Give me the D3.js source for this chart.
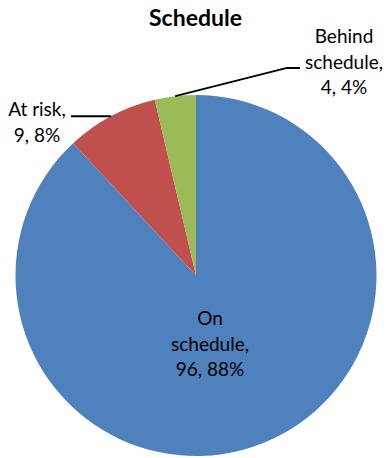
<!DOCTYPE html>
<html>
<head>
<meta charset="utf-8">
<script src="https://cdn.jsdelivr.net/npm/d3@7"></script>
<style>
  html, body { margin: 0; padding: 0; background: #fff; }
  svg { display: block; }
  text { font-family: Lato, "Open Sans", sans-serif; fill: #000; }
</style>
</head>
<body>
<div id="chart"></div>
<script>
// Project schedule status
const categories = ["On schedule", "At risk", "Behind schedule"];
const values = [96, 9, 4];
const colors = ["#4F81BD", "#C0504D", "#9BBB59"];
const title = "Schedule";

const width = 389, height = 458;
const cx = 196, cy = 275.5, radius = 180.5;

// Label placement: block centre / first baseline and optional leader-line elbow
const labelLayout = [
  { x: 210, y: 325, lines: ["On", "schedule,"], leader: null },
  { x: 37, y: 116, lines: ["At risk,"], leader: { x: 71, y: null } },
  { x: 344, y: 43, lines: ["Behind", "schedule,"], leader: { x: 300, y: 68, elbow: 287 } }
];

const total = d3.sum(values);
const data = categories.map((c, i) => ({ category: c, value: values[i], color: colors[i], idx: i }));

const svg = d3.select("#chart").append("svg")
  .attr("width", width).attr("height", height);

svg.append("text")
  .attr("x", 195.5).attr("y", 26)
  .attr("text-anchor", "middle")
  .attr("font-size", 23).attr("font-weight", 700)
  .text(title);

const pie = d3.pie().value(d => d.value).sort(null).startAngle(0).endAngle(2 * Math.PI);
const arcs = pie(data);
const arc = d3.arc().innerRadius(0).outerRadius(radius);

const g = svg.append("g").attr("transform", `translate(${cx},${cy})`);
g.selectAll("path.slice").data(arcs).join("path")
  .attr("class", "slice")
  .attr("d", arc)
  .attr("fill", d => d.data.color);

// Leader lines from the slice edge at its mid angle
arcs.forEach((a, i) => {
  const L = labelLayout[i].leader;
  if (!L) return;
  const mid = (a.startAngle + a.endAngle) / 2;
  const ex = cx + radius * Math.sin(mid);
  const ey = cy - radius * Math.cos(mid);
  let pts;
  if (L.elbow !== undefined) {
    pts = [[ex, ey], [L.elbow, L.y], [L.x, L.y]];
  } else {
    pts = [[ex, ey], [L.x, ey]];
  }
  svg.append("path")
    .attr("d", d3.line()(pts))
    .attr("fill", "none")
    .attr("stroke", "#000")
    .attr("stroke-width", 1.8);
});

// Data labels: category, value, percentage
const lineH = 25.5;
arcs.forEach((a, i) => {
  const lay = labelLayout[i];
  const pct = Math.round(a.data.value / total * 100) + "%";
  const lines = lay.lines.concat([`${a.data.value}, ${pct}`]);
  const t = svg.append("text")
    .attr("text-anchor", "middle")
    .attr("font-size", 19);
  lines.forEach((ln, k) => {
    t.append("tspan")
      .attr("x", lay.x)
      .attr("y", lay.y + k * lineH)
      .text(ln);
  });
});
</script>
</body>
</html>
